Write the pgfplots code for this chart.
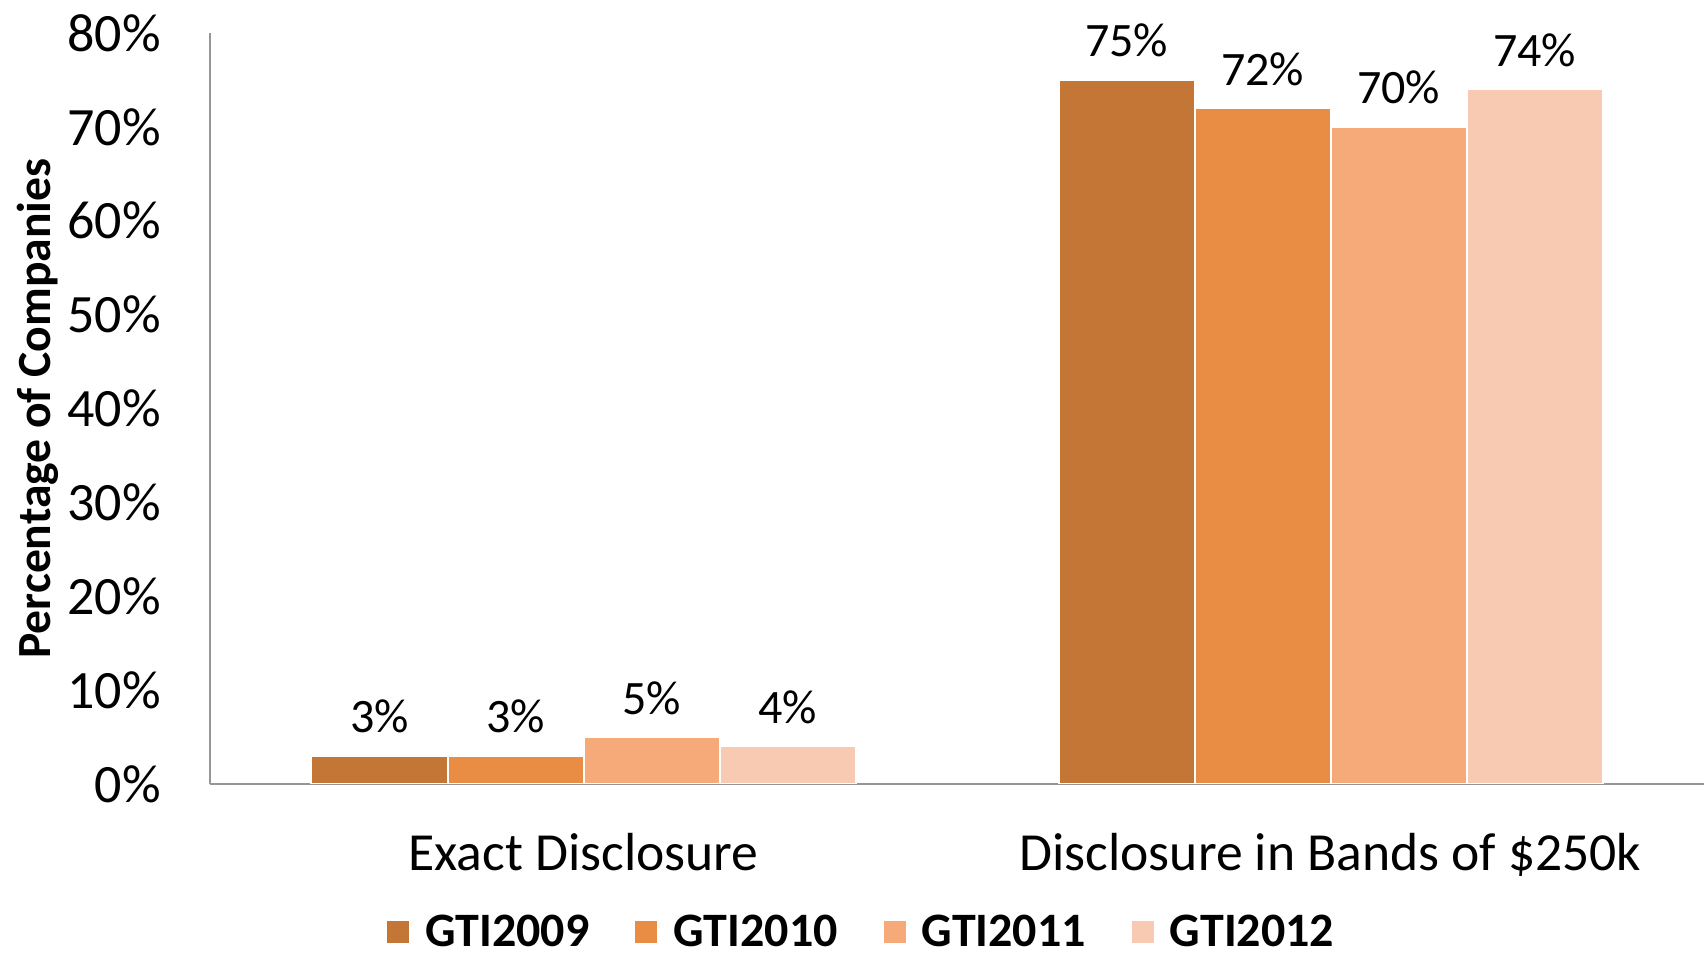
\documentclass[border=0pt]{standalone}
\usepackage{fontspec}
\setmainfont{Carlito}
\usepackage{pgfplots}
\pgfplotsset{compat=1.18}
\definecolor{cA}{RGB}{196,118,54}
\definecolor{cB}{RGB}{232,141,67}
\definecolor{cC}{RGB}{246,170,122}
\definecolor{cD}{RGB}{248,202,178}
\definecolor{axgray}{RGB}{150,150,150}
\begin{document}
\begin{tikzpicture}
\begin{axis}[
  scale only axis,
  width=747pt, height=375.5pt,
  ybar=0pt, bar width=68pt,
  xmin=-0.5, xmax=1.5, ymin=0, ymax=80,
  xtick={0,1},
  xticklabels={Exact Disclosure, Disclosure in Bands of \$250k},
  ytick={0,10,...,80},
  yticklabel={\pgfmathprintnumber{\tick}\%},
  /pgf/number format/assume math mode=true,
  major tick length=0pt,
  axis x line*=bottom, axis y line*=left,
  axis line style={draw=axgray, line width=1pt},
  x axis line style={-}, y axis line style={-},
  yticklabel style={font=\fontsize{27}{32}\selectfont, anchor=east, inner sep=0pt, xshift=-24.5pt},
  xticklabel style={font=\fontsize{26.8}{32}\selectfont, anchor=base, inner sep=0pt, yshift=-43.5pt},
  ylabel={Percentage of Companies},
  every axis y label/.style={at={(axis description cs:-0.1155,0.5)}, rotate=90, anchor=center, font=\fontsize{23.8}{28}\selectfont\bfseries},
  nodes near coords={\pgfmathprintnumber{\pgfplotspointmeta}\%},
  every node near coord/.append style={font=\fontsize{24}{29}\selectfont, anchor=base, inner sep=0pt, yshift=11.5pt, text=black},
  legend columns=4,
  legend style={draw=none, fill=none, inner sep=0pt, at={(0.4355,-0.197)}, anchor=center, font=\fontsize{24}{29}\selectfont\bfseries,
    nodes={inner sep=0pt},
    /tikz/every even column/.append style={column sep=23pt},
    /tikz/every odd column/.append style={column sep=8pt}},
  legend image code/.code={\fill[#1, draw=none] (0pt,-5.5pt) rectangle (11pt,5.5pt);},
  every axis plot/.append style={draw=white, line width=1pt},
]
\addplot[fill=cA] coordinates {(0,3) (1,75)};
\addplot[fill=cB] coordinates {(0,3) (1,72)};
\addplot[fill=cC] coordinates {(0,5) (1,70)};
\addplot[fill=cD] coordinates {(0,4) (1,74)};
\legend{GTI2009, GTI2010, GTI2011, GTI2012}
\end{axis}
\pgfresetboundingbox
\path[use as bounding box] (current axis.south west) ++(-105pt,-86pt) rectangle ++(853.5pt,478pt);
\end{tikzpicture}
\end{document}
